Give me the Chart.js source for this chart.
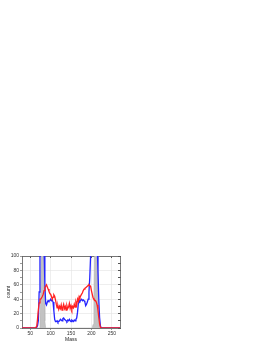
<!DOCTYPE html>
<html><head><meta charset="utf-8">
<script src="https://cdn.jsdelivr.net/npm/chart.js@4"></script>
<style>html,body{margin:0;padding:0;background:#fff;width:270px;height:349px;overflow:hidden}
#wrap{position:absolute;left:0;top:245px;width:130px;height:98px}</style>
</head><body>
<div id="wrap"><canvas id="c" width="130" height="98"></canvas></div>
<script>
const masses = [30,60,62,64,66,68,70,72,74,76,78,80,82,84,86,88,90,92,94,96,98,100,102,104,106,108,110,112,114,116,118,120,122,124,126,128,130,132,134,136,138,140,142,144,146,148,150,152,154,156,158,160,162,164,166,168,170,172,174,176,178,180,182,184,186,188,190,192,194,196,198,200,202,204,206,208,210,212,214,216,218,220,222,224,226,228,230,270];
const blueValues = [0,0,0,0,1,3,10,50,110,150,160,160,150,110,60,34,32,36,38,37,38,40,38,39,36,24,12,9,9,10,8,9,10,12,11,10,13,14,12,11,10,9,11,10,12,10,9,11,10,9,11,10,12,14,22,34,38,37,39,40,38,39,38,36,31,33,36,40,50,70,100,130,150,160,160,160,160,150,120,80,40,15,3,0,0,0,0,0];
const redValues = [0,0,0,0,2,12,25,35,40,40,42,44,47,52,56,58,60,57,54,51,48,47,44,40,43,46,44,39,33,28,31,26,30,27,32,25,29,33,27,30,25,31,27,29,34,27,31,26,30,28,33,29,36,32,40,37,44,42,45,47,49,52,54,55,56,57,58,59,60,59,58,52,47,42,40,39,38,36,32,25,15,6,1,0,0,0,0,0];
const grayValues = [0,0,0,0,0,0,0,0,10,60,160,200,160,60,10,0,0,0,0,0,0,0,0,0,0,0,0,0,0,0,0,0,0,0,0,0,0,0,0,0,0,0,0,0,0,0,0,0,0,0,0,0,0,0,0,0,0,0,0,0,0,0,0,0,0,0,0,0,0,0,0,0,0,5,40,140,200,180,120,50,10,0,0,0,0,0,0,0];
const xTicks = [50,100,150,200,250];
const yTicks = [0,10,20,30,40,50,60,70,80,90,100];
const yLabels = [0,20,40,60,80,100];

const pts = v => masses.map((m,i)=>({x:m,y:v[i]}));
const font = {family:'Liberation Sans, Arial, sans-serif', size:5};
const gridCol = c => (c.tick && yLabels.includes(c.tick.value)) ? '#e2e2e2' : 'rgba(0,0,0,0)';
new Chart(document.getElementById('c'), {
  type:'line',
  data:{datasets:[
    {data:pts(redValues), borderColor:'#ff2020', borderWidth:1.3, pointRadius:0, tension:0, fill:false},
    {data:pts(blueValues), borderColor:'#2424ff', borderWidth:1.3, pointRadius:0, tension:0, fill:false},
    {data:pts(grayValues), borderColor:'#b0b0b0', backgroundColor:'#c2c2c2', borderWidth:0.5, pointRadius:0, tension:0, fill:'origin'}
  ]},
  options:{
    responsive:false, animation:false, devicePixelRatio:1,
    plugins:{legend:{display:false}, tooltip:{enabled:false}},
    layout:{padding:0},
    scales:{
      x:{type:'linear', position:'bottom', min:30, max:270,
        afterBuildTicks:s=>{s.ticks = xTicks.map(v=>({value:v}));},
        afterFit:s=>{s.height=15;},
        ticks:{font, color:'#333', padding:1, maxRotation:0, autoSkip:false},
        grid:{color:'#e2e2e2', tickColor:'#555', tickLength:2, lineWidth:0.6},
        border:{color:'#555', width:0.8},
        title:{display:true, text:'Mass', font, color:'#222', padding:{top:1,bottom:0}}},
      x2:{type:'linear', position:'top', min:30, max:270,
        afterBuildTicks:s=>{s.ticks = xTicks.map(v=>({value:v}));},
        afterFit:s=>{s.height=11;},
        ticks:{display:false},
        grid:{drawOnChartArea:false, tickColor:'#555', tickLength:-2},
        border:{color:'#555', width:0.8}},
      y:{type:'linear', position:'left', min:0, max:100,
        afterBuildTicks:s=>{s.ticks = yTicks.map(v=>({value:v}));},
        afterFit:s=>{s.width=22;},
        ticks:{font, color:'#333', padding:1, autoSkip:false, callback:v=>yLabels.includes(v)?String(v):''},
        grid:{color:gridCol, tickColor:'#555', tickLength:2, lineWidth:0.6},
        border:{color:'#555', width:0.8},
        title:{display:true, text:'count', font, color:'#222', padding:{top:6,bottom:0}}},
      y2:{type:'linear', position:'right', min:0, max:100,
        afterBuildTicks:s=>{s.ticks = yTicks.map(v=>({value:v}));},
        afterFit:s=>{s.width=10;},
        ticks:{display:false},
        grid:{drawOnChartArea:false, tickColor:'#555', tickLength:-2},
        border:{color:'#555', width:0.8}}
    }
  }
});
</script>
</body></html>
